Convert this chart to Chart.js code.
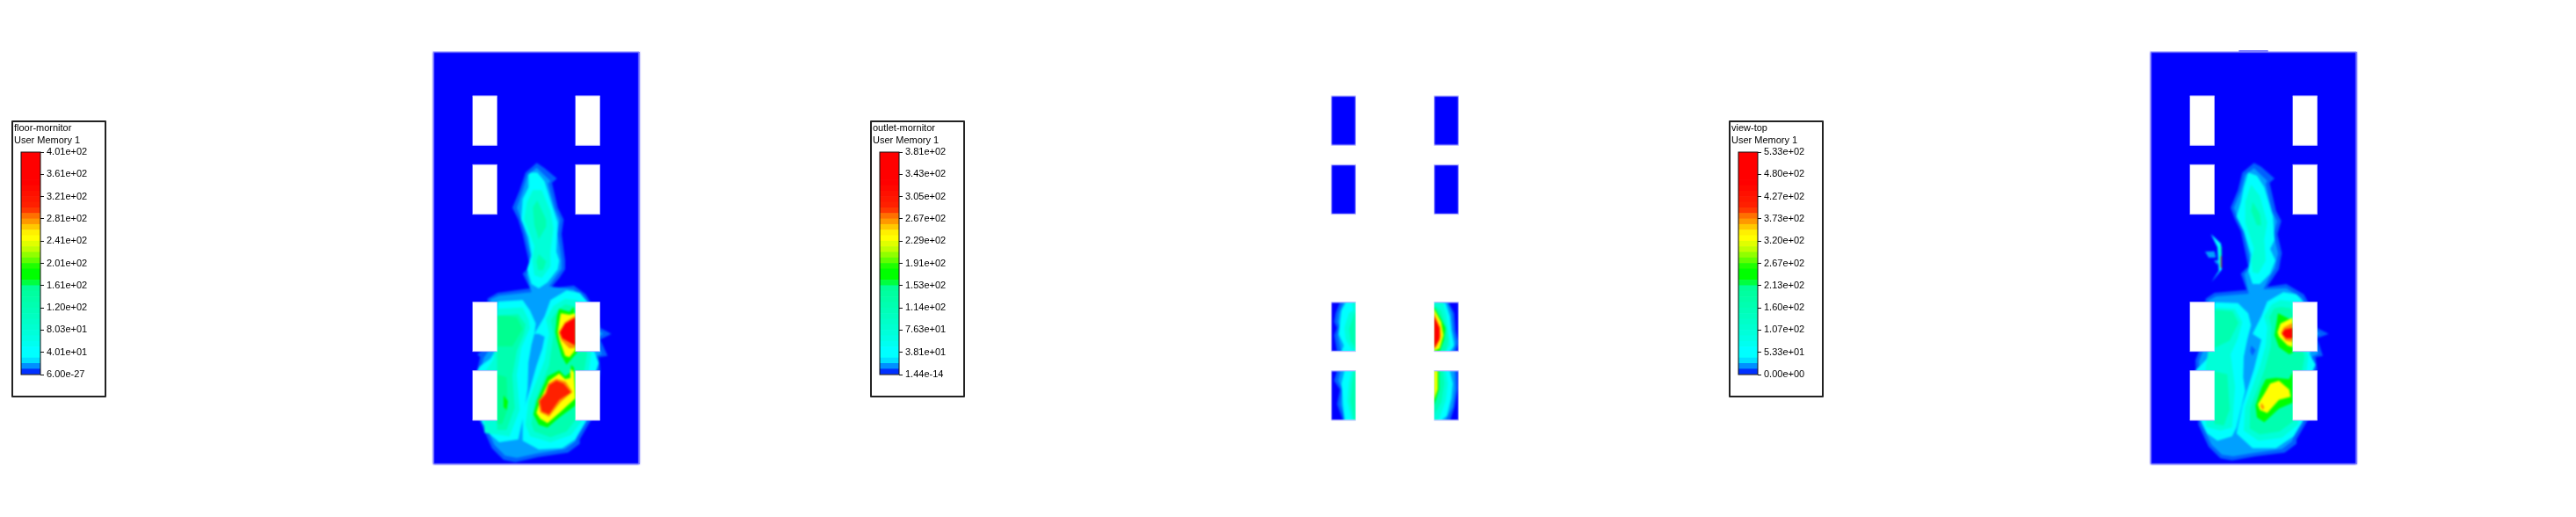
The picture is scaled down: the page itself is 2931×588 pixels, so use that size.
<!DOCTYPE html>
<html lang="en">
<head>
<meta charset="UTF-8">
<title>User Memory 1 contours</title>
<script src="https://cdn.jsdelivr.net/npm/chart.js"></script>
<style>
    html, body { margin: 0; padding: 0; background: #fff; width: 2931px; height: 588px; overflow: hidden; }
    .field { position: absolute; top: 55px; width: 235px; height: 473px; }
    .soft canvas { filter: blur(1.1px); }
    .legend { position: absolute; top: 137px; width: 104px; height: 311px; border: 2px solid #222; border-radius: 1px; background: #fff; }
    .legend canvas { position: absolute; left: 0; top: 0; }
    .legend-title { position: absolute; left: 1px; top: -1px; font: 11px/14px "Liberation Sans", sans-serif; color: #000; z-index: 2; }
</style>
</head>
<body>
    <div class="legend" style="left:13px"><div class="legend-title">floor-mornitor<br>User Memory 1</div><canvas id="legendFloor"></canvas></div>
    <div class="field soft" style="left:493px"><canvas id="fieldFloor"></canvas></div>
    <div class="field" style="left:493px"><canvas id="maskFloor"></canvas></div>

    <div class="legend" style="left:990px"><div class="legend-title">outlet-mornitor<br>User Memory 1</div><canvas id="legendOutlet"></canvas></div>
    <div class="field soft" style="left:1470px"><canvas id="fieldOutlet"></canvas></div>
    <div class="field" style="left:1470px"><canvas id="maskOutlet"></canvas></div>

    <div class="legend" style="left:1967px"><div class="legend-title">view-top<br>User Memory 1</div><canvas id="legendTop"></canvas></div>
    <div class="field soft" style="left:2447px"><canvas id="fieldTop"></canvas></div>
    <div class="field" style="left:2447px"><canvas id="maskTop"></canvas></div>

<script>
// colour bar labels, bottom to top
const floorTicks = ["6.00e-27", "4.01e+01", "8.03e+01", "1.20e+02", "1.61e+02", "2.01e+02", "2.41e+02", "2.81e+02", "3.21e+02", "3.61e+02", "4.01e+02"];
const outletTicks = ["1.44e-14", "3.81e+01", "7.63e+01", "1.14e+02", "1.53e+02", "1.91e+02", "2.29e+02", "2.67e+02", "3.05e+02", "3.43e+02", "3.81e+02"];
const topTicks = ["0.00e+00", "5.33e+01", "1.07e+02", "1.60e+02", "2.13e+02", "2.67e+02", "3.20e+02", "3.73e+02", "4.27e+02", "4.80e+02", "5.33e+02"];

// colour bar bands, bottom to top
const bandColors = [
    "#0030ff", "#0090ff", "#00e0ff", "#00ffff", "#00ffff", "#00fff0", "#00ffe4", "#00ffda",
    "#00ffd0", "#00ffc8", "#00ffc0", "#00ffb8", "#00ffb0", "#00ffa8", "#00ffa0", "#00ff98",
    "#00ff40", "#00ff00", "#00ff00", "#20ff00", "#60ff00", "#90ff00", "#c0ff00", "#e0ff00",
    "#ffff00", "#fff000", "#ffc800", "#ff9800", "#ff7000", "#ff3800", "#ff2000", "#ff1800",
    "#ff1000", "#ff0800", "#ff0000", "#ff0000", "#ff0000", "#ff0000", "#ff0000", "#ff0000"
];

// contour level colours
const fringe = "#0060ff", azure = "#00a0ff", cyan = "#00ffff", mid = "#00ffd8", spring = "#00ffb0",
      deep = "#00ff90", green = "#00ff00", yellow = "#ffff00", orange = "#ff9000", red = "#ff0000", scarlet = "#ff2000", blue = "#0000ff";

// room and rack outlines, in room units (x across, y down)
const roomX = [0, 703];
const roomY = [0, 1407];
const rackX = [[134, 218], [485, 569]];
const rackY = [[150, 319], [385, 554], [854, 1022], [1088, 1257]];
// everything outside the racks on the outlet plane
const gapX = [[-10, 134], [218, 485], [569, 715]];
const gapY = [[-20, 150], [319, 385], [554, 854], [1022, 1088], [1257, 1420]];

// floor-mornitor contours
const floorFringe = [[353,379],[380,397],[422,432],[405,447],[425,532],[445,572],[438,622],[450,712],[450,742],[430,772],[400,807],[480,797],[520,827],[560,892],[570,942],[608,962],[570,982],[595,1037],[565,1042],[570,1087],[550,1242],[535,1262],[500,1322],[500,1337],[460,1367],[360,1382],[280,1400],[240,1392],[200,1352],[165,1272],[150,1242],[150,1087],[160,1042],[150,1032],[190,1002],[185,842],[220,822],[330,807],[305,757],[330,732],[305,622],[290,572],[270,532],[295,472],[315,412]];
const floorAzure = [[353,395],[400,440],[392,450],[415,535],[432,572],[425,622],[438,712],[438,740],[420,765],[395,800],[478,810],[510,835],[548,895],[558,945],[580,962],[555,978],[575,1030],[552,1040],[555,1090],[538,1245],[525,1258],[490,1315],[485,1330],[450,1355],[355,1370],[285,1385],[245,1378],[208,1340],[175,1265],[160,1240],[160,1090],[172,1045],[200,1002],[195,845],[225,832],[335,820],[318,758],[340,732],[315,622],[300,572],[285,532],[305,475],[322,420]];
const floorCyanUp = [[335,412],[355,412],[380,442],[405,522],[425,582],[420,682],[430,712],[425,742],[390,787],[360,807],[335,792],[320,742],[335,692],[325,632],[300,572],[305,502],[325,462],[325,417]];
const floorCyanLeft = [[220,852],[305,847],[330,882],[350,927],[345,962],[335,1000],[325,1060],[322,1150],[310,1232],[290,1322],[225,1332],[190,1302],[165,1262],[150,1087],[160,1072],[195,1047],[210,1022]];
const floorCyanRight = [[455,814],[500,822],[530,857],[550,942],[550,1022],[565,1062],[545,1122],[520,1262],[485,1322],[440,1352],[360,1357],[305,1327],[305,1232],[330,1150],[352,1072],[372,1012],[380,972],[360,962],[345,962],[380,902],[400,847]];
const floorMidUp = [[340,472],[370,472],[400,542],[410,602],[400,682],[400,732],[370,772],[345,762],[338,712],[345,662],[310,572],[320,512]];
const floorMidLeft = [[218,877],[305,872],[325,912],[330,942],[300,1012],[285,1102],[295,1222],[260,1312],[175,1300],[170,1100],[205,1050]];
const floorMidRight = [[450,842],[490,847],[515,902],[540,1022],[530,1092],[505,1262],[470,1307],[400,1332],[330,1312],[315,1272],[325,1192],[380,1052],[395,962],[385,912],[410,867]];
const floorSpringUp = [[355,507],[385,572],[385,597],[360,640],[345,590],[340,530]];
const floorSpringLow = [[360,690],[385,715],[375,745],[358,745],[352,715]];
const floorSpringLeft = [[218,900],[290,895],[315,930],[310,960],[285,1020],[270,1105],[278,1215],[250,1290],[218,1290]];
const floorSpringRight = [[450,862],[480,868],[505,920],[525,1030],[515,1090],[490,1250],[455,1295],[400,1315],[345,1295],[335,1270],[345,1195],[395,1070],[410,965],[402,915],[425,880]];
const floorDeepTop = [[240,900],[285,905],[305,945],[270,1005],[218,1005],[218,900]];
const floorDeepLow = [[218,1100],[250,1110],[255,1215],[235,1270],[218,1270]];
const floorSpot = [[240,1172],[255,1192],[250,1222],[240,1212]];
const floorGreenUp = [[430,877],[465,887],[480,870],[490,1027],[455,1067],[438,1037],[422,982],[417,957],[422,902]];
const floorYellowUp = [[435,892],[465,897],[485,892],[485,1017],[465,1042],[450,1037],[432,987],[425,957],[430,922]];
const floorOrangeUp = [[485,900],[450,922],[428,957],[438,985],[465,1012],[485,1010]];
const floorRedUp = [[485,907],[450,927],[432,957],[440,977],[485,1002]];
const floorGreenLow = [[470,1067],[480,1077],[490,1172],[485,1207],[430,1247],[390,1282],[360,1272],[342,1237],[355,1187],[390,1107],[430,1087],[450,1107],[470,1092]];
const floorYellowLow = [[468,1082],[480,1092],[485,1182],[430,1232],[390,1267],[365,1252],[352,1232],[365,1187],[395,1122],[430,1097],[450,1117],[470,1112]];
const floorOrangeLow = [[420,1115],[452,1125],[475,1160],[435,1195],[395,1245],[365,1230],[358,1190],[382,1162],[392,1132]];
const floorRedLow = [[420,1122],[445,1132],[470,1162],[430,1187],[395,1237],[370,1227],[363,1192],[385,1167],[395,1137]];

// outlet-mornitor contours, one set per lower rack
const outA = {
    fringe: [[164,854],[149,892],[144,922],[154,942],[144,967],[154,1022],[218,1022],[218,854]],
    azure: [[176,854],[160,892],[156,922],[166,942],[156,967],[168,1022],[218,1022],[218,854]],
    cyan: [[184,854],[169,882],[164,922],[159,962],[177,1002],[169,1022],[218,1022],[218,854]],
    mid: [[205,854],[209,882],[194,892],[179,942],[184,982],[204,1017],[218,1022],[218,854]],
    spring: [[210,900],[195,945],[200,985],[218,1015],[218,885]]
};
const outB = {
    fringe: [[154,1088],[144,1122],[164,1152],[154,1202],[174,1257],[218,1257],[218,1088]],
    azure: [[166,1088],[158,1122],[172,1152],[166,1202],[182,1257],[218,1257],[218,1088]],
    cyan: [[179,1088],[169,1132],[174,1202],[179,1257],[218,1257],[218,1088]],
    mid: [[204,1088],[194,1132],[189,1192],[204,1257],[218,1257],[218,1088]],
    spring: [[212,1088],[205,1132],[200,1192],[212,1257],[218,1257],[218,1088]]
};
const outC = {
    fringe: [[485,854],[534,854],[554,892],[559,952],[569,992],[559,1022],[485,1022]],
    azure: [[485,854],[530,854],[545,892],[550,950],[560,992],[550,1022],[485,1022]],
    cyan: [[485,854],[524,857],[539,902],[544,952],[554,1002],[539,1022],[485,1022]],
    mid: [[485,854],[515,854],[528,900],[534,960],[540,1000],[525,1022],[485,1022]],
    spring: [[485,862],[509,882],[529,942],[534,982],[524,1022],[485,1022]],
    green: [[485,870],[504,902],[524,942],[519,982],[504,1022],[485,1022]],
    yellow: [[485,877],[509,922],[517,967],[504,1012],[485,1020]],
    orange: [[485,890],[506,940],[508,970],[495,1005],[485,1015]],
    red: [[485,902],[504,942],[504,982],[485,1010]]
};
const outD = {
    fringe: [[485,1088],[565,1088],[566,1150],[555,1212],[540,1257],[485,1257]],
    azure: [[485,1088],[555,1088],[558,1150],[548,1212],[525,1257],[485,1257]],
    cyan: [[539,1088],[549,1132],[544,1182],[529,1242],[510,1257],[485,1257],[485,1088]],
    mid: [[525,1088],[532,1132],[525,1190],[500,1257],[485,1257],[485,1088]],
    spring: [[515,1088],[520,1132],[510,1195],[485,1240],[485,1088]],
    green: [[502,1088],[502,1152],[485,1207],[485,1088]],
    yellow: [[497,1088],[497,1152],[485,1187],[485,1088]]
};

// view-top contours
const topFringe = [[353,379],[378,392],[423,432],[406,447],[428,542],[446,577],[433,622],[448,687],[443,712],[438,742],[418,772],[398,802],[463,792],[523,827],[558,892],[568,942],[608,962],[568,977],[588,1037],[563,1042],[568,1082],[548,1242],[533,1262],[498,1322],[498,1337],[458,1367],[358,1380],[278,1394],[238,1387],[198,1347],[163,1272],[153,1052],[173,1002],[188,842],[218,822],[328,812],[308,757],[333,732],[308,612],[288,572],[273,532],[298,472],[313,412]];
const topAzure = [[353,397],[398,440],[393,450],[415,545],[432,578],[420,622],[435,688],[430,712],[425,738],[405,770],[385,810],[463,806],[515,838],[548,897],[556,945],[578,962],[556,972],[572,1030],[550,1040],[555,1085],[535,1245],[522,1258],[488,1315],[482,1330],[448,1355],[355,1368],[282,1380],[244,1375],[208,1340],[173,1268],[165,1055],[185,1005],[198,848],[224,834],[335,825],[320,758],[344,732],[318,612],[298,572],[284,532],[308,475],[322,420]];
const topCyanUp = [[333,412],[363,422],[388,462],[418,562],[423,642],[408,672],[426,712],[408,757],[373,792],[348,792],[333,747],[343,692],[318,612],[293,562],[308,512],[318,462]];
const topCyanLeft = [[218,854],[298,857],[333,892],[343,932],[330,982],[318,1040],[316,1110],[323,1157],[293,1282],[278,1312],[228,1327],[193,1302],[168,1252],[153,1087],[188,1052],[208,1022]];
const topCyanRight = [[453,820],[498,827],[528,862],[553,942],[543,1032],[563,1067],[543,1112],[518,1262],[488,1312],[428,1352],[348,1352],[293,1302],[313,1207],[353,1082],[378,982],[348,962],[378,902],[398,852]];
const topMidUp = [[343,452],[373,492],[398,582],[388,642],[393,712],[368,757],[348,752],[343,712],[353,672],[323,582],[323,512]];
const topMidLeft = [[218,872],[288,877],[313,922],[298,977],[273,1032],[288,1142],[278,1282],[238,1292],[190,1280],[185,1100]];
const topMidRight = [[443,847],[488,852],[523,942],[538,1042],[533,1082],[503,1272],[448,1317],[368,1327],[318,1292],[323,1212],[373,1072],[393,1002],[398,942],[388,902],[413,862]];
const topDeepUp = [[348,512],[373,552],[378,592],[363,592],[343,542]];
const topSpringTop = [[218,880],[280,885],[300,925],[270,985],[218,1010]];
const topSpringLow = [[218,1090],[262,1100],[270,1220],[250,1275],[218,1270]];
const topSpringRight = [[445,870],[480,875],[505,945],[525,1042],[518,1085],[488,1260],[440,1295],[372,1305],[338,1285],[340,1215],[390,1082],[410,1005],[412,940],[405,905],[422,875]];
const topHole = [[343,1002],[358,1017],[348,1037],[340,1022]];
const topGreenUp = [[435,892],[485,917],[485,1027],[473,1032],[438,1007],[423,967]];
const topYellowUp = [[443,927],[485,907],[485,1007],[468,1002],[438,972],[433,957]];
const topOrangeUp = [[485,925],[455,940],[445,958],[460,985],[485,990]];
const topRedUp = [[485,942],[458,947],[448,962],[463,977],[485,977]];
const topGreenLow = [[393,1117],[428,1112],[473,1117],[485,1092],[485,1197],[438,1217],[388,1264],[363,1247],[358,1207],[378,1147]];
const topYellowLow = [[408,1132],[438,1122],[473,1152],[478,1177],[438,1187],[398,1232],[373,1222],[366,1202],[388,1167]];
const topOrangeLow = [[378,1197],[388,1212],[383,1222],[376,1210]];
const streakCyan = [[206,622],[240,654],[243,742],[208,785],[233,747],[228,667]];
const streakBlobA = [[186,682],[218,680],[223,702],[198,702]];
const streakBlobB = [[216,712],[233,710],[228,727]];
const streakCore = [[236,667],[242,662],[242,742],[238,732]];
const streakRed = [[239,697],[242,697],[242,737],[239,737]];
const topNub = [[301,-3],[401,-3]];

function corners(xs, ys) {
    return [[xs[0], ys[0]], [xs[1], ys[0]], [xs[1], ys[1]], [xs[0], ys[1]]];
}

function layer(points, color) {
    return {
        data: points.concat([points[0]]).map(([x, y]) => ({ x, y })),
        showLine: true,
        fill: 'shape',
        backgroundColor: color,
        borderWidth: 0,
        pointRadius: 0,
        tension: 0
    };
}

function edge(points, color) {
    return {
        data: points.map(([x, y]) => ({ x, y })),
        showLine: true,
        borderColor: color,
        borderWidth: 1,
        pointRadius: 0
    };
}

function rackEdges() {
    const out = [];
    rackX.forEach(xs => rackY.forEach(ys => {
        out.push(edge([[xs[0], ys[0]], [xs[1], ys[0]]], '#b8b8ff'));
        out.push(edge([[xs[0], ys[1]], [xs[1], ys[1]]], '#b8b8ff'));
    }));
    return out;
}

function rackHoles() {
    const out = [];
    rackX.forEach(xs => rackY.forEach(ys => out.push(layer(corners(xs, ys), '#ffffff'))));
    return out;
}

function roomEdge() {
    return edge(corners(roomX, roomY).concat([[roomX[0], roomY[0]]]), '#7f7fff');
}

function roomCut() {
    // white surround that keeps the blurred room edge inside the outline
    const out = [];
    const wide = [gapX[0][0], gapX[2][1]];
    out.push(layer(corners(wide, [-20, roomY[0]]), '#ffffff'));
    out.push(layer(corners(wide, [roomY[1], 1420]), '#ffffff'));
    out.push(layer(corners([gapX[0][0], roomX[0]], [-20, 1420]), '#ffffff'));
    out.push(layer(corners([roomX[1], gapX[2][1]], [-20, 1420]), '#ffffff'));
    return out;
}

function outletMask() {
    const out = [];
    const wide = [gapX[0][0], gapX[2][1]];
    const tall = [gapY[0][0], gapY[4][1]];
    gapX.forEach(xs => out.push(layer(corners(xs, tall), '#ffffff')));
    gapY.forEach(ys => out.push(layer(corners(wide, ys), '#ffffff')));
    return out;
}

function drawField(id, datasets) {
    // later list entries sit on top
    datasets.forEach((d, i) => { d.order = datasets.length - i; });
    new Chart(document.getElementById(id), {
        type: 'scatter',
        data: { datasets },
        options: {
            responsive: true,
            maintainAspectRatio: false,
            animation: false,
            events: [],
            layout: { padding: 0 },
            plugins: { legend: { display: false }, tooltip: { enabled: false } },
            scales: {
                x: { type: 'linear', min: 0, max: 705, display: false },
                y: { type: 'linear', min: -12, max: 1407, reverse: true, display: false }
            }
        }
    });
}

const barFrame = {
    id: 'barFrame',
    afterDatasetsDraw(chart) {
        const { left, top, width, height } = chart.chartArea;
        chart.ctx.save();
        chart.ctx.strokeStyle = '#111';
        chart.ctx.lineWidth = 1;
        chart.ctx.strokeRect(left, top, width, height);
        chart.ctx.restore();
    }
};

function drawLegend(id, tickLabels) {
    new Chart(document.getElementById(id), {
        type: 'bar',
        data: {
            labels: [''],
            datasets: bandColors.map((c, i) => ({ data: [[i, i + 1]], backgroundColor: c, borderWidth: 0 }))
        },
        options: {
            responsive: true,
            maintainAspectRatio: false,
            animation: false,
            events: [],
            barPercentage: 1,
            categoryPercentage: 1,
            layout: { padding: { left: 9, top: 34, bottom: 24 } },
            plugins: { legend: { display: false }, tooltip: { enabled: false } },
            scales: {
                x: { stacked: true, display: false },
                y: {
                    position: 'right',
                    min: 0,
                    max: bandColors.length,
                    afterFit: s => { s.width = 73; },
                    border: { display: false },
                    grid: { drawOnChartArea: false, tickLength: 4, color: '#111' },
                    ticks: {
                        stepSize: 4,
                        padding: 3,
                        color: '#000',
                        font: { family: '"Liberation Sans", sans-serif', size: 11 },
                        callback: v => tickLabels[v / 4]
                    }
                }
            }
        },
        plugins: [barFrame]
    });
}

drawLegend('legendFloor', floorTicks);
drawLegend('legendOutlet', outletTicks);
drawLegend('legendTop', topTicks);

drawField('fieldFloor', [
    layer(corners(roomX, roomY), blue),
    layer(floorFringe, fringe), layer(floorAzure, azure),
    layer(floorCyanUp, cyan), layer(floorCyanLeft, cyan), layer(floorCyanRight, cyan),
    layer(floorMidUp, mid), layer(floorMidLeft, mid), layer(floorMidRight, mid),
    layer(floorSpringUp, spring), layer(floorSpringLow, spring), layer(floorSpringLeft, spring), layer(floorSpringRight, spring),
    layer(floorDeepTop, deep), layer(floorDeepLow, deep), layer(floorSpot, green),
    layer(floorGreenUp, green), layer(floorYellowUp, yellow), layer(floorOrangeUp, orange), layer(floorRedUp, red),
    layer(floorGreenLow, green), layer(floorYellowLow, yellow), layer(floorOrangeLow, orange), layer(floorRedLow, scarlet)
]);
drawField('maskFloor', [...roomCut(), roomEdge(), ...rackHoles(), ...rackEdges()]);

const levelColors = { fringe, azure, cyan, mid, spring, green, yellow, orange, red };
const rackFill = set => Object.keys(set).map(k => layer(set[k], levelColors[k]));
const rackBase = [];
rackX.forEach(xs => rackY.forEach(ys => rackBase.push(layer(corners(xs, ys), blue))));

drawField('fieldOutlet', [...rackBase, ...rackFill(outA), ...rackFill(outB), ...rackFill(outC), ...rackFill(outD)]);
drawField('maskOutlet', [...outletMask(), ...rackEdges()]);

drawField('fieldTop', [
    layer(corners(roomX, roomY), blue),
    layer(topFringe, fringe), layer(topAzure, azure),
    layer(topCyanUp, cyan), layer(topCyanLeft, cyan), layer(topCyanRight, cyan),
    layer(topMidUp, mid), layer(topMidLeft, mid), layer(topMidRight, mid),
    layer(topDeepUp, spring), layer(topSpringTop, spring), layer(topSpringLow, spring), layer(topSpringRight, spring),
    layer(topHole, fringe),
    layer(streakBlobA, azure), layer(streakBlobB, azure), layer(streakCyan, cyan), layer(streakCore, spring), layer(streakRed, red),
    layer(topGreenUp, green), layer(topYellowUp, yellow), layer(topOrangeUp, orange), layer(topRedUp, red),
    layer(topGreenLow, green), layer(topYellowLow, yellow), layer(topOrangeLow, orange)
]);
const nub = edge(topNub, '#7f7fff');
nub.borderWidth = 2;
drawField('maskTop', [...roomCut(), nub, roomEdge(), ...rackHoles(), ...rackEdges()]);
</script>
</body>
</html>
